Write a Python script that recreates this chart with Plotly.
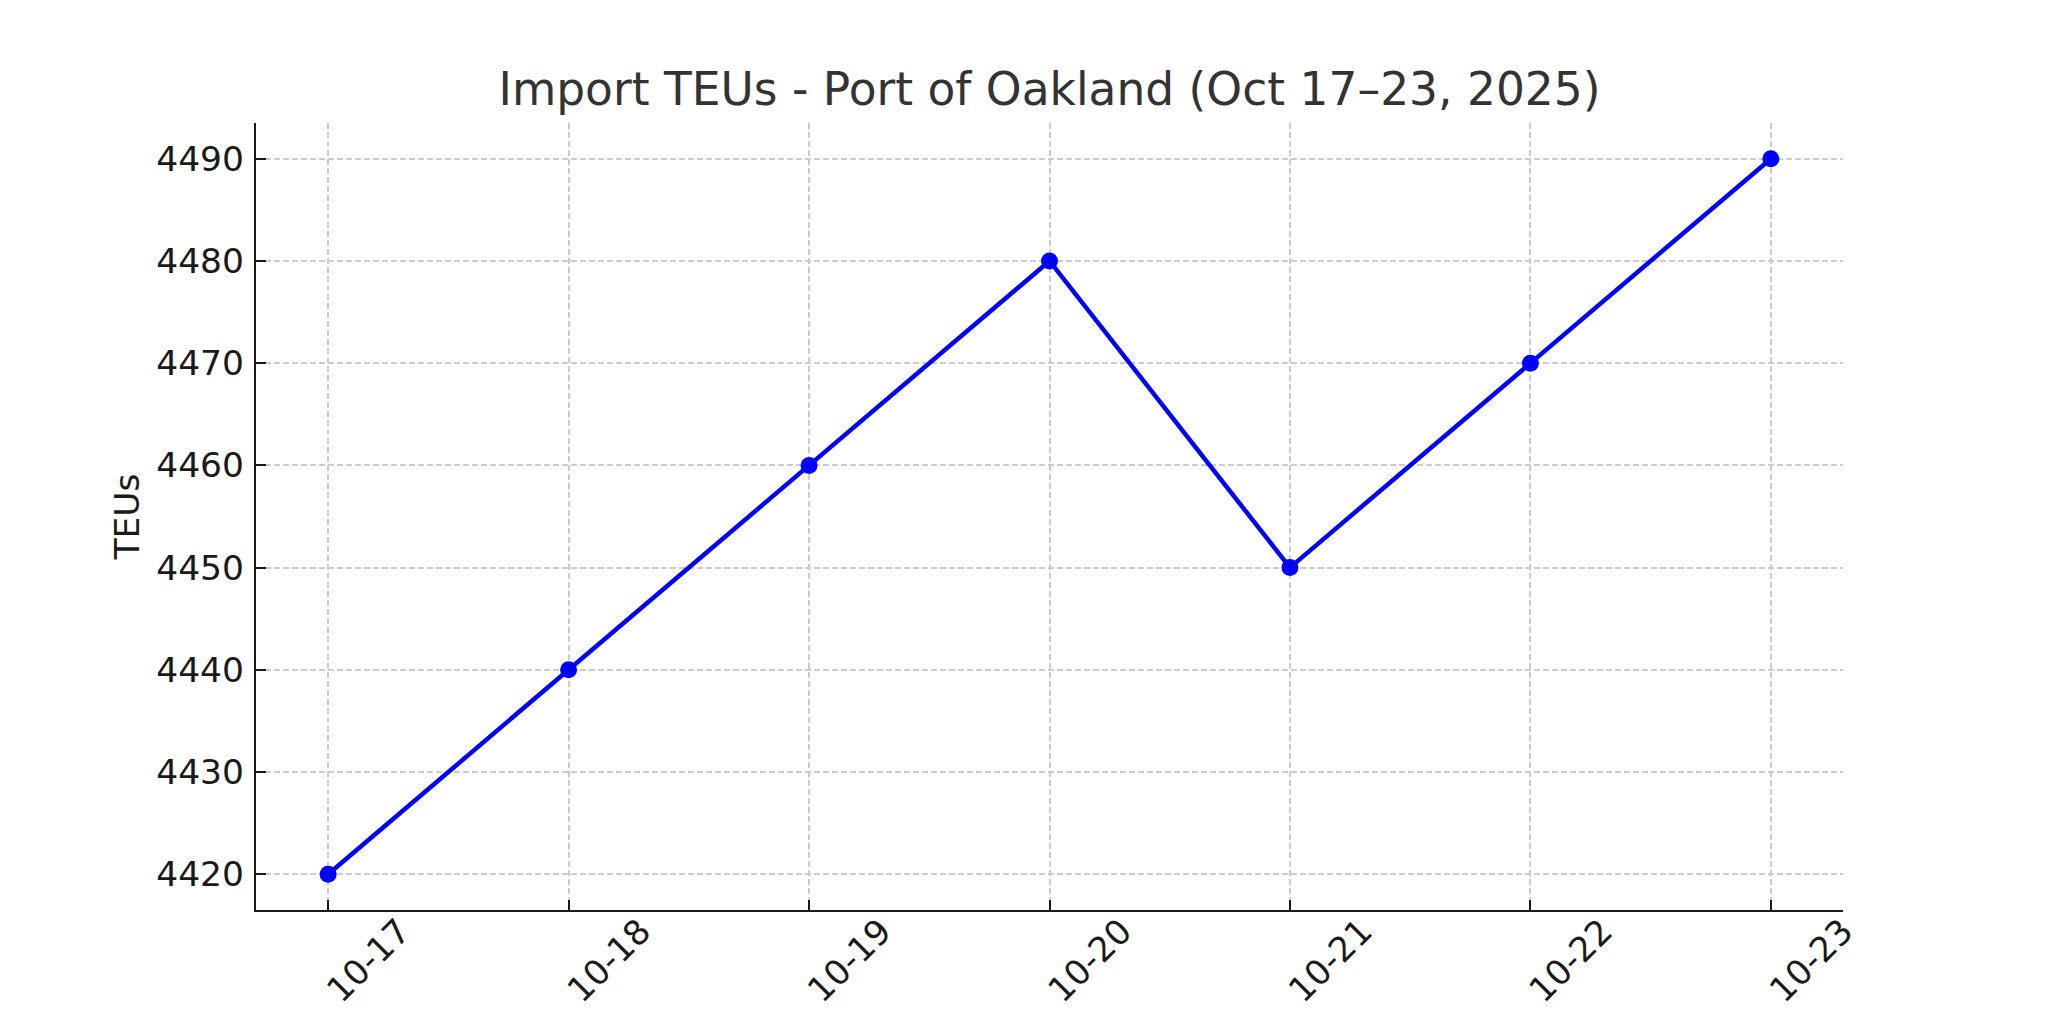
import plotly.graph_objects as go

dates = ["10-17", "10-18", "10-19", "10-20", "10-21", "10-22", "10-23"]
teus = [4420, 4440, 4460, 4480, 4450, 4470, 4490]
y_ticks = [4420, 4430, 4440, 4450, 4460, 4470, 4480, 4490]

FONT = "DejaVu Sans"
# page body has an 8px default margin, so the figure is 8px smaller
W, H = 2040, 1016
OFF = 8

fig = go.Figure()
fig.add_trace(go.Scatter(
    x=dates, y=teus, mode="lines+markers",
    line=dict(color="#0000FF", width=4.5),
    marker=dict(color="#0000FF", size=17),
    showlegend=False,
))

axis_common = dict(
    showline=True, linecolor="#1a1a1a", linewidth=2.2,
    ticks="inside", ticklen=10, tickwidth=2, tickcolor="#1a1a1a",
    showgrid=True, gridcolor="#cccccc", gridwidth=1.5, griddash="6px,3px",
    zeroline=False, mirror=False,
    tickfont=dict(family=FONT, size=34.5, color="#1a1a1a"),
)

fig.update_xaxes(
    type="category", range=[-0.3, 6.3],
    tickangle=-45, ticklabelshift=72, ticklabelstandoff=-15,
    **axis_common,
)
fig.update_yaxes(
    range=[4416.5, 4493.5], tickvals=y_ticks, ticklabelstandoff=3,
    title=dict(text="TEUs", font=dict(family=FONT, size=34.5, color="#1a1a1a"), standoff=6),
    **axis_common,
)

fig.update_layout(
    width=W, height=H,
    margin=dict(l=256 - OFF, r=205, t=123 - OFF, b=114, autoexpand=False),
    paper_bgcolor="white", plot_bgcolor="white",
    title=dict(text="Import TEUs - Port of Oakland (Oct 17–23, 2025)",
               x=((256 + 1843) / 2 - OFF) / W, xanchor="center",
               y=1 - (89 - OFF) / H, yanchor="middle",
               font=dict(family=FONT, size=45.5, color="#333333")),
)

fig.write_html("out.html")
